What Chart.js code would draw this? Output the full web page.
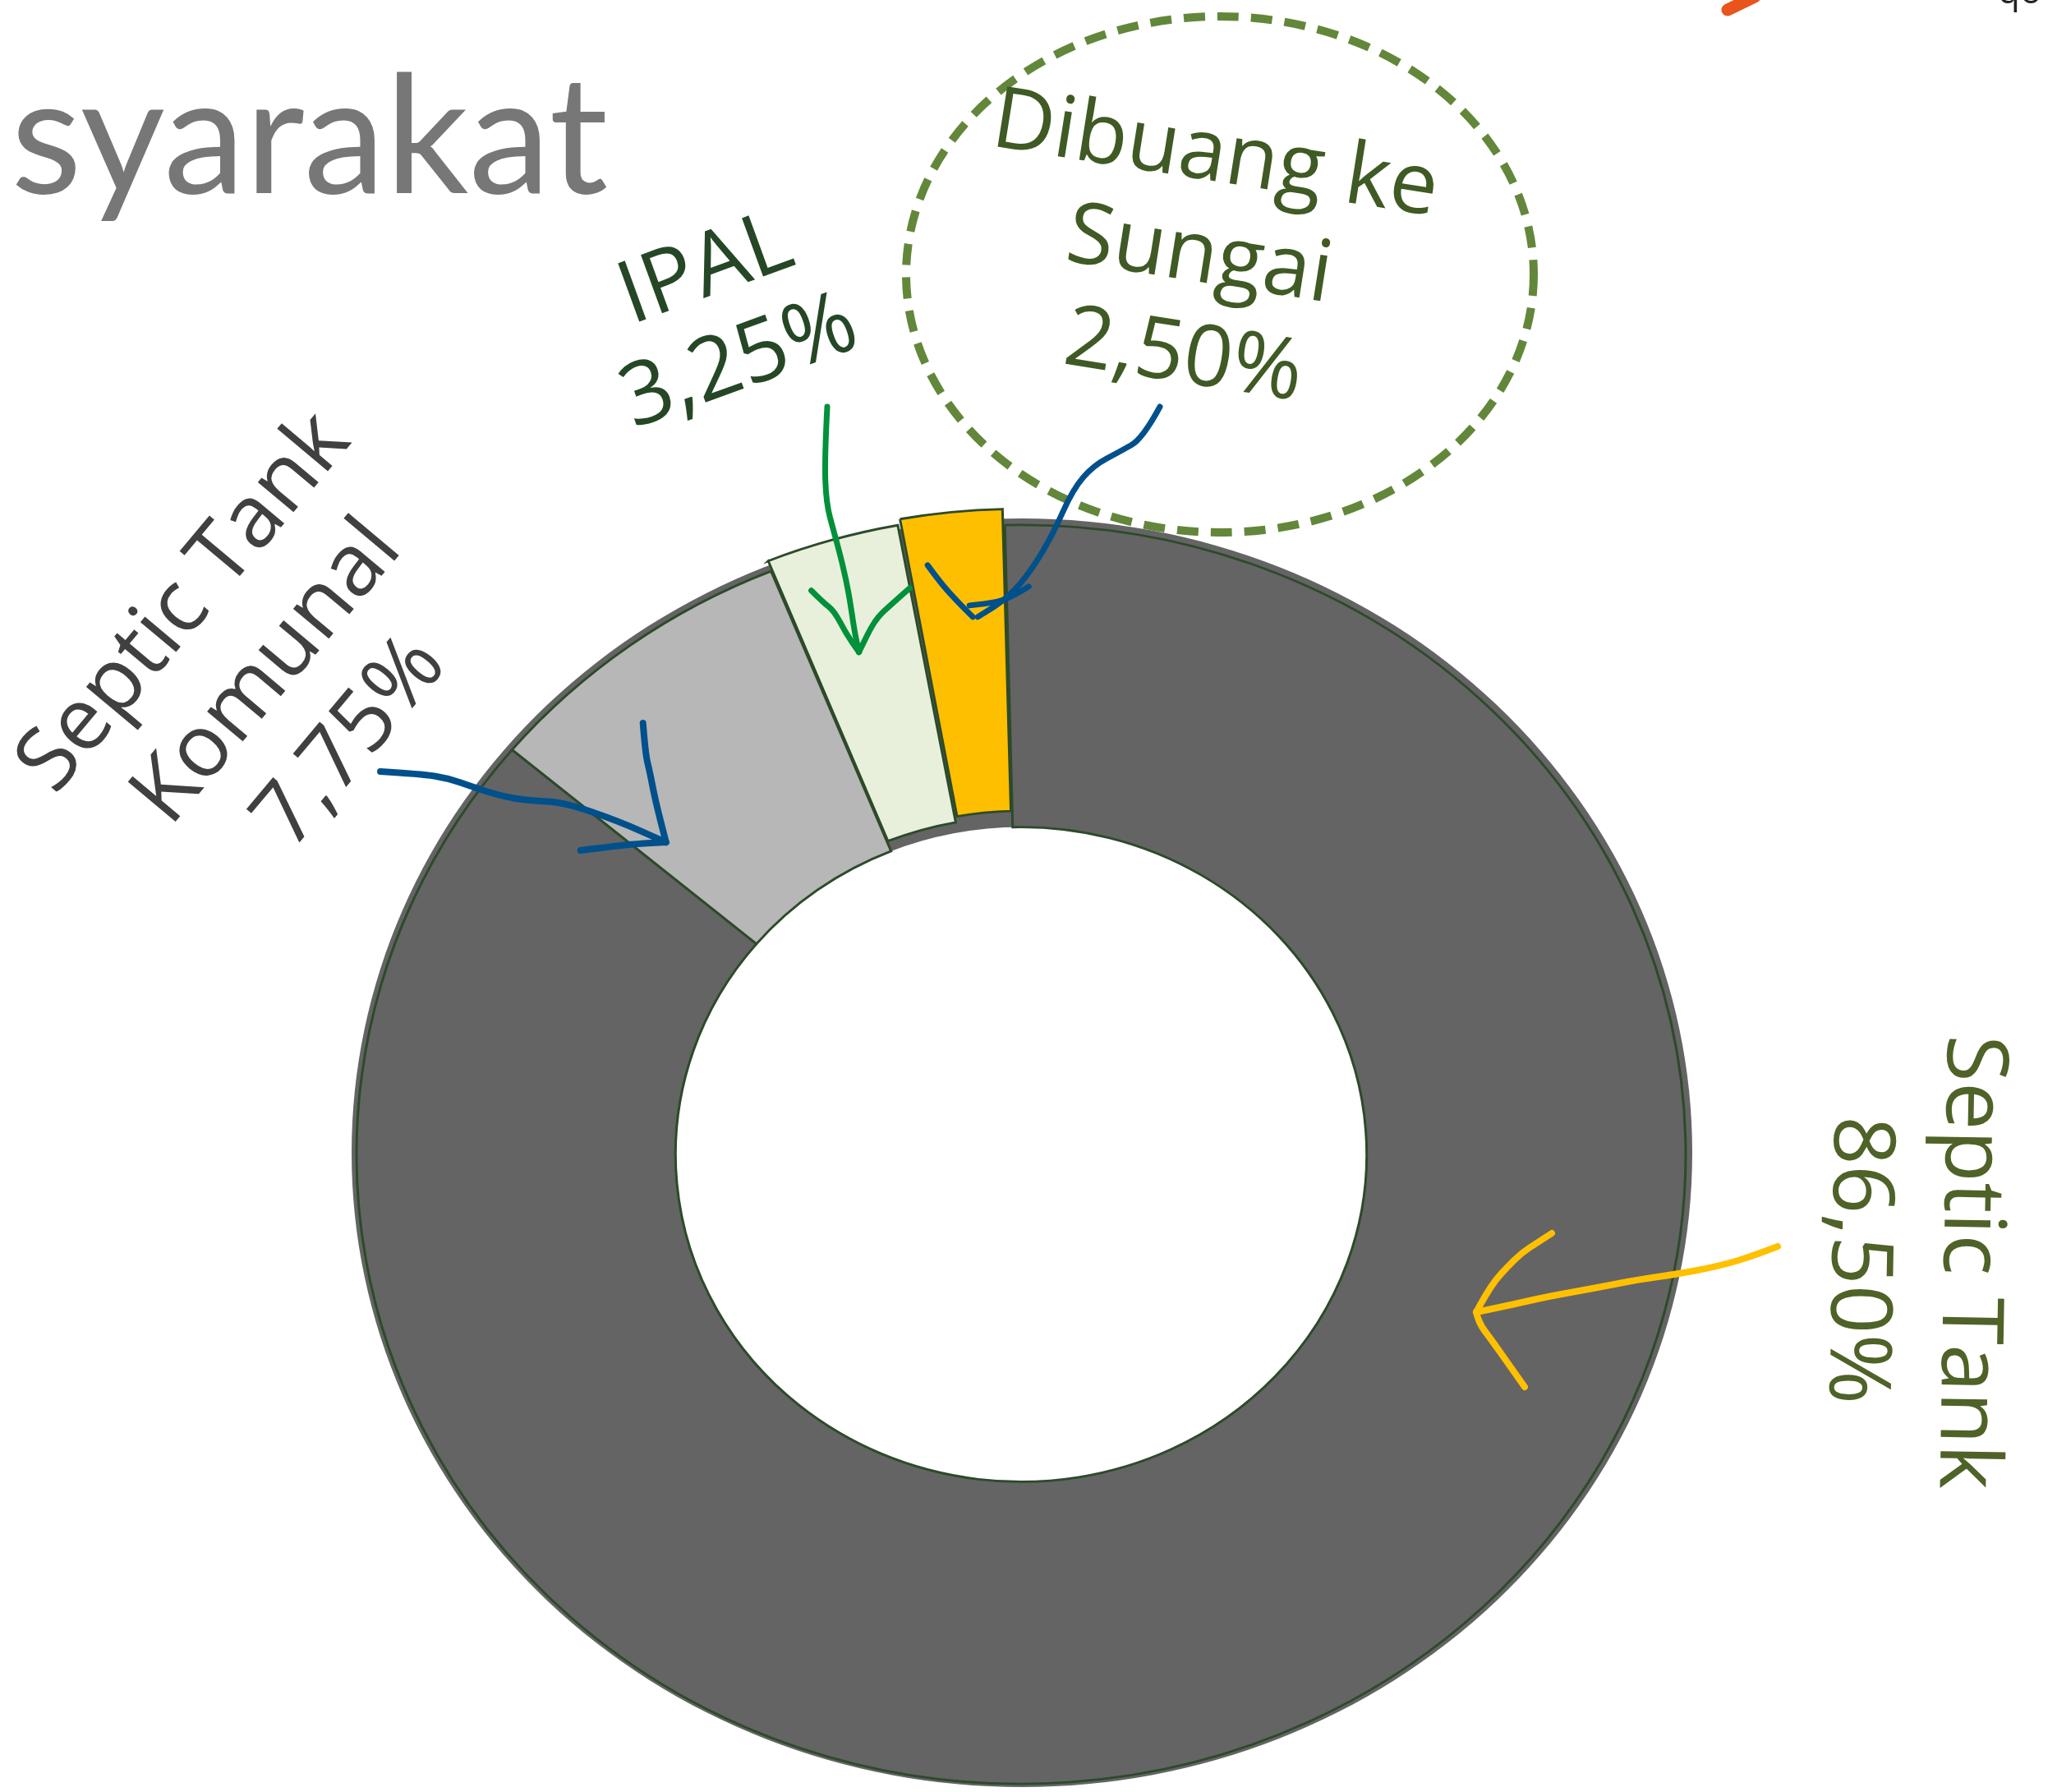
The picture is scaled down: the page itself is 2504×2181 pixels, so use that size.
<!DOCTYPE html>
<html>
<head>
<meta charset="utf-8">
<script src="https://cdn.jsdelivr.net/npm/chart.js@4.4.1/dist/chart.umd.min.js"></script>
<style>
  html, body { margin: 0; padding: 0; background: #fff; overflow: hidden; }
  canvas { display: block; }
</style>
</head>
<body>
<canvas id="chart" width="2504" height="2181"></canvas>
<script>
// data
const categories = ['Septic Tank Komunal', 'IPAL', 'Dibuang ke Sungai', 'Septic Tank'];
const shares = [7.75, 3.25, 2.50, 86.50];
const sliceColors = ['#b7b7b7', '#e8f0dc', '#fdbf00', '#646464'];
const labelNames = [['Septic Tank', 'Komunal'], ['IPAL'], ['Dibuang ke', 'Sungai'], ['Septic Tank']];
const titleText = 'syarakat';

// ring geometry (final picture, ring is a bit flattened)
const CX = 1243, CY = 1405, K = 0.947;

const pct = v => v.toFixed(2).replace('.', ',') + '%';

function smoothLine(ctx, pts) {
    ctx.beginPath();
    ctx.moveTo(pts[0][0], pts[0][1]);
    for (let i = 1; i < pts.length - 1; i++) {
        const mx = (pts[i][0] + pts[i + 1][0]) / 2;
        const my = (pts[i][1] + pts[i + 1][1]) / 2;
        ctx.quadraticCurveTo(pts[i][0], pts[i][1], mx, my);
    }
    const last = pts[pts.length - 1];
    ctx.lineTo(last[0], last[1]);
    ctx.stroke();
}

// point inside slice, as close as possible to (px, py)
function slicePoint(chart, index, px, py, margin) {
    const el = chart.getDatasetMeta(0).data[index];
    const off = el.options.offset || 0;
    const ux = px - CX, uy = (py - CY) / K;
    const r = Math.hypot(ux, uy);
    let a = Math.atan2(uy, ux);
    const s = el.startAngle, e = el.endAngle;
    while (a < s - Math.PI) a += 2 * Math.PI;
    while (a > s + Math.PI) a -= 2 * Math.PI;
    const m = Math.min(margin, (e - s) / 3);
    a = Math.max(s + m, Math.min(e - m, a));
    const mid = (s + e) / 2;
    return [CX + Math.cos(a) * r + Math.cos(mid) * off, CY + K * (Math.sin(a) * r + Math.sin(mid) * off)];
}

function textBlock(ctx, lines, x, y, deg, size, lh, color) {
    ctx.save();
    ctx.translate(x, y);
    ctx.rotate(deg * Math.PI / 180);
    ctx.fillStyle = color;
    ctx.font = size + 'px "Open Sans"';
    ctx.textAlign = 'center';
    ctx.textBaseline = 'middle';
    const n = lines.length;
    lines.forEach((t, i) => ctx.fillText(t, 0, (i - (n - 1) / 2) * lh));
    ctx.restore();
}

// hand drawn arrows (pixel paths), tip gets pulled onto its slice
const arrows = [
    { index: 0, color: '#00508c', width: 8,
      shaft: [[463,939],[505,951],[530,965],[554,985],[580,1005],[610,1020],[640,1030],[700,1062],[751,1097]],
      arms: [[[723,952],[726,990],[731,1010],[738,1046],[751,1097]], [[647,1107],[687,1102],[715,1099],[751,1097]]] },
    { index: 1, color: '#00913a', width: 7,
      shaft: [[1007,495],[1005,560],[1008,620],[1019,660],[1030,700],[1040,745],[1047,790],[1054,821]],
      arms: [[[996,746],[1010,760],[1024,771],[1038,798],[1054,821]], [[1116,743],[1091,765],[1073,782],[1054,821]]] },
    { index: 2, color: '#00508c', width: 7,
      shaft: [[1412,495],[1411,540],[1403,562],[1391,585],[1386,620],[1382,680],[1376,730],[1368,770],[1350,800]],
      arms: [[[1289,737],[1305,759],[1326,782],[1344,800]], [[1412,763],[1396,773],[1375,782],[1340,786]]] },
    { index: 3, color: '#ffc000', width: 8,
      shaft: [[2164,1517],[2130,1530],[2092,1541],[2040,1551],[1996,1557],[1940,1568],[1884,1578],[1840,1588],[1797,1597]],
      arms: [[[1889,1501],[1872,1512],[1852,1525],[1835,1542],[1821,1557],[1808,1577],[1797,1597]],
             [[1797,1597],[1800,1610],[1815,1630],[1837,1661],[1856,1688]]] }
];

const ringPlugin = {
    id: 'ring',
    beforeDatasetsDraw(chart) {
        const ctx = chart.ctx;
        const el = chart.getDatasetMeta(0).data[0];
        const ri = el.innerRadius;
        // dark backing ring behind the slices
        ctx.save();
        ctx.fillStyle = '#646464';
        ctx.beginPath();
        ctx.ellipse(CX + 1, CY - 2, 816, 772, 0, 0, Math.PI * 2);
        ctx.moveTo(CX + ri, CY);
        ctx.ellipse(CX, CY, ri, ri * K, 0, 0, Math.PI * 2);
        ctx.fill('evenodd');
        ctx.restore();
        ctx.save();
        ctx.translate(CX, CY);
        ctx.scale(1, K);
        ctx.translate(-el.x, -el.y);
    },
    afterDatasetsDraw(chart) {
        chart.ctx.restore();
    },
    afterDraw(chart) {
        const ctx = chart.ctx;
        ctx.save();

        // title fragment
        ctx.fillStyle = '#777777';
        ctx.font = '200px Lato';
        ctx.textAlign = 'left';
        ctx.textBaseline = 'alphabetic';
        ctx.fillText(titleText, 13, 235);

        // logo fragment top right
        ctx.strokeStyle = '#e8541c';
        ctx.lineWidth = 15;
        ctx.lineCap = 'round';
        ctx.beginPath();
        ctx.moveTo(2103, 12);
        ctx.lineTo(2136, -4);
        ctx.stroke();
        ctx.fillStyle = '#222';
        ctx.font = '44px "Open Sans"';
        ctx.fillText('qo', 2432, 4);

        // dashed ellipse
        ctx.strokeStyle = '#63873a';
        ctx.lineWidth = 10;
        ctx.lineCap = 'butt';
        ctx.setLineDash([26, 15]);
        ctx.beginPath();
        ctx.ellipse(1485, 334, 382, 314, 0, 0, Math.PI * 2);
        ctx.stroke();
        ctx.setLineDash([]);

        // labels
        const lines = labelNames.map((n, i) => n.concat([pct(shares[i])]));
        textBlock(ctx, lines[0], 326, 819, -50, 106, 132, '#404040');
        textBlock(ctx, lines[1], 880, 386, -20, 106, 120, '#264726');
        textBlock(ctx, lines[2], 1460, 313, 9, 104, 124, '#3f5a24');
        textBlock(ctx, lines[3], 2328, 1535, 91, 104, 136, '#4f6228');

        // arrows
        ctx.lineCap = 'round';
        ctx.lineJoin = 'round';
        arrows.forEach(ar => {
            const tip = ar.shaft[ar.shaft.length - 1];
            const target = ar.index === 3 ? tip : slicePoint(chart, ar.index, tip[0], tip[1], 0.05);
            const dx = target[0] - tip[0], dy = target[1] - tip[1];
            const n = ar.shaft.length - 1;
            ctx.strokeStyle = ar.color;
            ctx.lineWidth = ar.width;
            smoothLine(ctx, ar.shaft.map((p, i) => [p[0] + dx * i / n, p[1] + dy * i / n]));
            ar.arms.forEach(arm => smoothLine(ctx, arm.map(p => [p[0] + dx, p[1] + dy])));
        });

        ctx.restore();
    }
};

new Chart(document.getElementById('chart'), {
    type: 'doughnut',
    data: {
        labels: categories,
        datasets: [{
            data: shares,
            backgroundColor: sliceColors,
            borderColor: '#2d4a2a',
            borderWidth: 3,
            borderJoinStyle: 'miter',
            offset: [0, 30, 45, 0],
            clip: false
        }]
    },
    options: {
        responsive: false,
        animation: false,
        devicePixelRatio: 1,
        events: [],
        rotation: -50,
        cutout: '52%',
        radius: 809,
        layout: { padding: { left: 434, right: 452, top: 700, bottom: 71 } },
        plugins: {
            legend: { display: false },
            tooltip: { enabled: false }
        }
    },
    plugins: [ringPlugin]
});
</script>
</body>
</html>
